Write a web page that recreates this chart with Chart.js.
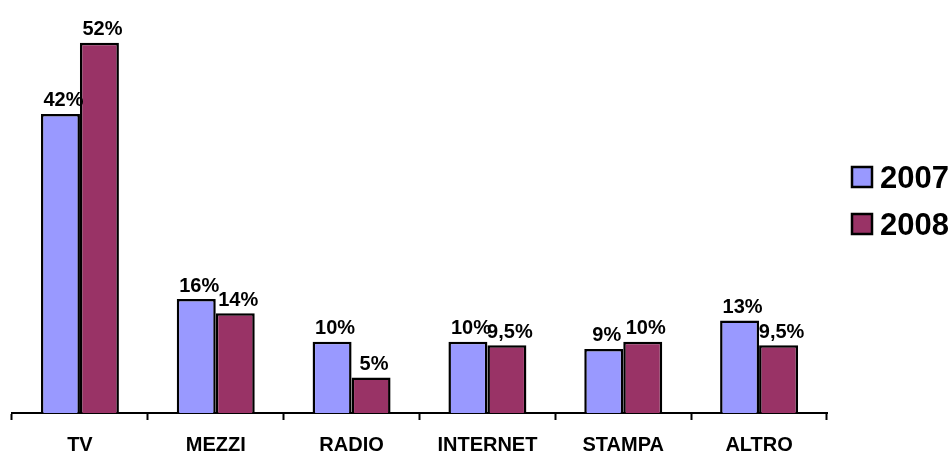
<!DOCTYPE html>
<html>
<head>
<meta charset="utf-8">
<script src="https://cdn.jsdelivr.net/npm/chart.js@4/dist/chart.umd.min.js"></script>
<style>
  html, body { margin: 0; padding: 0; background: #ffffff; }
  #wrap { position: relative; width: 951px; height: 452px; }
</style>
</head>
<body>
<div id="wrap"><canvas id="mediaChart"></canvas></div>
<script>
// chart data
const categories = ['TV', 'MEZZI', 'RADIO', 'INTERNET', 'STAMPA', 'ALTRO'];
const values2007 = [42, 16, 10, 10, 9, 13];
const values2008 = [52, 14, 5, 9.5, 10, 9.5];
const seriesNames = ['2007', '2008'];

const FONT = 'Liberation Sans, Arial, sans-serif';

// percent labels above each bar, Italian decimal comma
const barLabels = {
    id: 'barLabels',
    afterDatasetsDraw: function(chart) {
        const ctx = chart.ctx;
        ctx.save();
        ctx.font = 'bold 20px ' + FONT;
        ctx.fillStyle = '#000000';
        ctx.textAlign = 'center';
        ctx.textBaseline = 'bottom';
        chart.data.datasets.forEach(function(ds, i) {
            chart.getDatasetMeta(i).data.forEach(function(bar, j) {
                const txt = String(ds.data[j]).replace('.', ',') + '%';
                ctx.fillText(txt, bar.x + 3, bar.y - 3);
            });
        });
        ctx.restore();
    }
};

// legend on the right side
const sideLegend = {
    id: 'sideLegend',
    afterDraw: function(chart) {
        const ctx = chart.ctx;
        ctx.save();
        chart.data.datasets.forEach(function(ds, i) {
            const y = 167 + i * 47;
            ctx.fillStyle = ds.backgroundColor;
            ctx.fillRect(852, y, 20, 20);
            ctx.lineWidth = 2.5;
            ctx.strokeStyle = '#000000';
            ctx.strokeRect(852, y, 20, 20);
            ctx.fillStyle = '#000000';
            ctx.font = 'bold 31px ' + FONT;
            ctx.textAlign = 'left';
            ctx.textBaseline = 'alphabetic';
            ctx.fillText(ds.label, 880, y + 21);
        });
        ctx.restore();
    }
};

new Chart(document.getElementById('mediaChart').getContext('2d'), {
    type: 'bar',
    data: {
        labels: categories,
        datasets: [{
            label: seriesNames[0],
            data: values2007,
            backgroundColor: '#9999FF',
            borderColor: '#000000',
            borderWidth: 2.5
        }, {
            label: seriesNames[1],
            data: values2008,
            backgroundColor: '#993366',
            borderColor: '#000000',
            borderWidth: 2.5
        }]
    },
    options: {
        responsive: true,
        maintainAspectRatio: false,
        animation: false,
        layout: {
            padding: { left: 12, right: 124, top: 0, bottom: 0 }
        },
        categoryPercentage: 0.574,
        barPercentage: 1,
        plugins: {
            legend: { display: false },
            tooltip: { enabled: false }
        },
        scales: {
            y: {
                display: false,
                min: 0,
                max: 58
            },
            x: {
                afterFit: function(scale) {
                    scale.height = 39;
                },
                grid: {
                    display: true,
                    drawOnChartArea: false,
                    drawTicks: true,
                    tickLength: 7,
                    tickWidth: 2,
                    tickColor: '#000000',
                    offset: true
                },
                border: {
                    display: true,
                    color: '#000000',
                    width: 2
                },
                ticks: {
                    color: '#000000',
                    padding: 13,
                    font: { family: FONT, size: 20, weight: 'bold' }
                }
            }
        }
    },
    plugins: [barLabels, sideLegend]
});
</script>
</body>
</html>
